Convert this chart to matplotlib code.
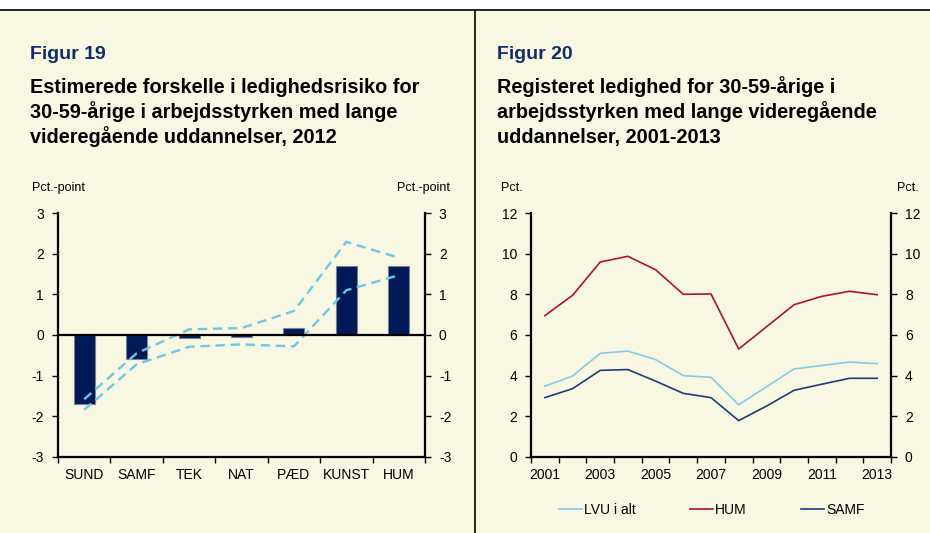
import matplotlib.pyplot as plt
import numpy as np
from matplotlib.lines import Line2D
from matplotlib.patches import Rectangle

plt.rcParams['font.family'] = ['Liberation Sans', 'DejaVu Sans']
plt.rcParams['axes.unicode_minus'] = False

# Figur 19 data
fields = ['SUND', 'SAMF', 'TEK', 'NAT', 'PÆD', 'KUNST', 'HUM']
risk = [-1.70, -0.58, -0.07, -0.04, 0.16, 1.69, 1.70]
upper = [-1.58, -0.45, 0.14, 0.17, 0.59, 2.29, 1.90]
lower = [-1.84, -0.72, -0.29, -0.23, -0.28, 1.10, 1.47]

# Figur 20 data
years = list(range(2001, 2014))
lvu = [3.48, 3.98, 5.10, 5.21, 4.79, 4.00, 3.92, 2.57, 3.45, 4.33, 4.50, 4.67, 4.59]
hum = [6.95, 7.95, 9.59, 9.87, 9.21, 8.00, 8.02, 5.31, 6.40, 7.49, 7.90, 8.15, 7.98]
samf = [2.92, 3.36, 4.26, 4.30, 3.73, 3.13, 2.92, 1.79, 2.50, 3.28, 3.58, 3.87, 3.87]

BG = '#F8F7E1'
NAVY = '#0F2D6B'
W, H = 930, 533

fig = plt.figure(figsize=(W / 100, H / 100), dpi=100, facecolor=BG)
fig.add_artist(Rectangle((0, (H - 10) / H), 1, 10 / H, transform=fig.transFigure,
                         facecolor='white', edgecolor='none'))
fig.add_artist(Line2D([0, 1], [(H - 10) / H] * 2, color='black', lw=1.2))
fig.add_artist(Line2D([474.5 / W] * 2, [0, (H - 10) / H], color='black', lw=1.2))


def fx(px):
    return px / W


def fy(py):
    return (H - py) / H


def titles(x, num, lines):
    fig.text(fx(x), fy(59), num, color=NAVY, fontsize=14, fontweight='bold', va='baseline')
    for yb, t in zip([93, 118, 143], lines):
        fig.text(fx(x), fy(yb), t, color='black', fontsize=14.3, fontweight='bold', va='baseline')


def style_axes(ax):
    ax.set_facecolor('none')
    for s in ['left', 'right', 'bottom']:
        ax.spines[s].set_linewidth(1.6)
    ax.spines['top'].set_visible(False)
    ax.tick_params(axis='y', which='major', left=True, right=True, labelleft=True,
                   labelright=True, direction='out', length=4, width=1, labelsize=10, pad=6)
    ax.tick_params(axis='x', which='major', direction='out', length=4, width=1,
                   labelbottom=False)
    ax.tick_params(axis='x', which='minor', length=0, labelsize=10, pad=8)


# ---- Figur 19
titles(30, 'Figur 19', ['Estimerede forskelle i ledighedsrisiko for',
                        '30-59-årige i arbejdsstyrken med lange',
                        'videregående uddannelser, 2012'])
ax1 = fig.add_axes([fx(58), fy(457), fx(425 - 58), (457 - 213) / H])
x = np.arange(len(fields))
ax1.bar(x, risk, width=0.4, color='#001A57', edgecolor='#7A8090', linewidth=0.8, zorder=2)
ax1.plot(x, upper, color='#6EC6E8', lw=1.7, dashes=(4, 2.4), zorder=3)
ax1.plot(x, lower, color='#6EC6E8', lw=1.7, dashes=(4, 2.4), zorder=3)
ax1.axhline(0, color='black', lw=1.6, zorder=4)
ax1.set_xlim(-0.5, len(fields) - 0.5)
ax1.set_ylim(-3, 3)
ax1.set_yticks(range(-3, 4))
ax1.set_xticks(np.arange(-0.5, len(fields), 1))
ax1.set_xticks(x, minor=True)
ax1.set_xticklabels(fields, minor=True)
style_axes(ax1)
fig.text(fx(32), fy(188), 'Pct.-point', fontsize=9, va='center', ha='left')
fig.text(fx(450), fy(188), 'Pct.-point', fontsize=9, va='center', ha='right')

# ---- Figur 20
titles(497, 'Figur 20', ['Registeret ledighed for 30-59-årige i',
                         'arbejdsstyrken med lange videregående',
                         'uddannelser, 2001-2013'])
ax2 = fig.add_axes([fx(531), fy(457), fx(891 - 531), (457 - 213) / H])
ax2.plot(years, lvu, color='#7FCDEB', lw=1.2, label='LVU i alt')
ax2.plot(years, hum, color='#B0103A', lw=1.2, label='HUM')
ax2.plot(years, samf, color='#1F3A7A', lw=1.2, label='SAMF')
ax2.set_xlim(2000.5, 2013.5)
ax2.set_ylim(0, 12)
ax2.set_yticks(range(0, 13, 2))
ax2.set_xticks(np.arange(2000.5, 2014, 1))
ax2.set_xticks(years[::2], minor=True)
ax2.set_xticklabels([str(y) for y in years[::2]], minor=True)
style_axes(ax2)
fig.text(fx(501), fy(188), 'Pct.', fontsize=9, va='center', ha='left')
fig.text(fx(919), fy(188), 'Pct.', fontsize=9, va='center', ha='right')

fig.legend(*ax2.get_legend_handles_labels(), ncol=3, loc='center',
           bbox_to_anchor=(fx(712), fy(510)), frameon=False, fontsize=10,
           handlelength=1.65, handletextpad=0.15, columnspacing=3.9)

fig.savefig('out.png', dpi=100, facecolor=fig.get_facecolor())
